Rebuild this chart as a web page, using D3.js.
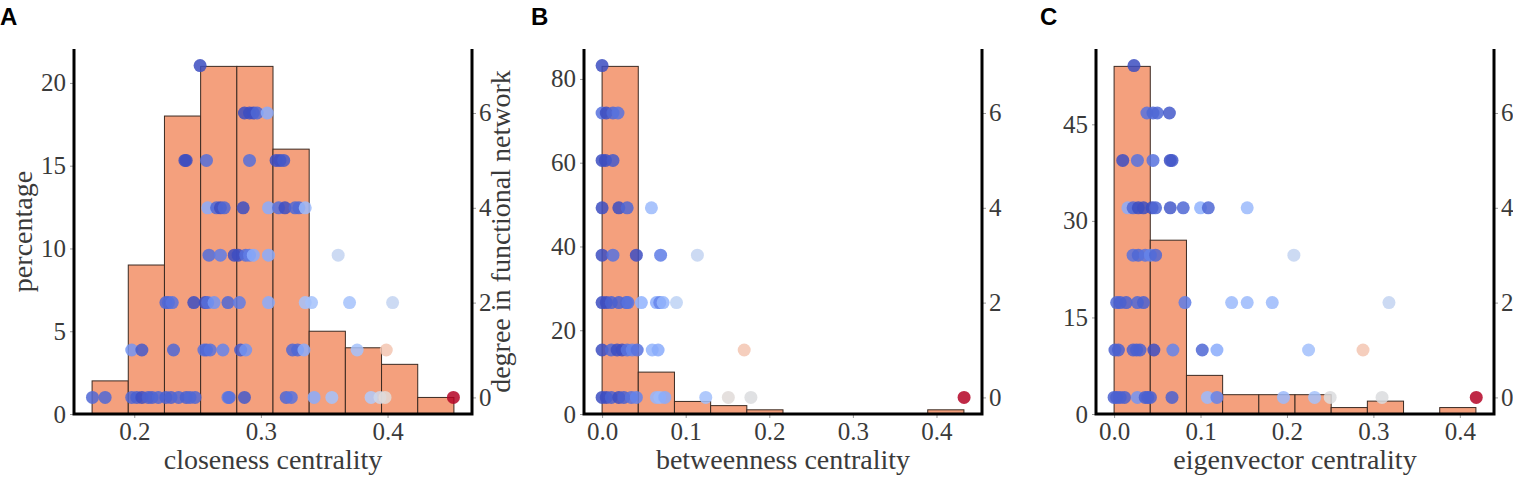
<!DOCTYPE html>
<html>
<head>
<meta charset="utf-8">
<script src="https://cdn.jsdelivr.net/npm/d3@7"></script>
<style>
	body { margin: 0; background: #fff; }
	svg text { font-family: "Liberation Serif", "Times New Roman", serif; }
</style>
</head>
<body>
<div id="chart"></div>
<script>

// histogram: percentage of nodes per bin, and the data range the 10 bins span
var closenessCounts = [2, 9, 18, 21, 21, 16, 5, 4, 3, 1];
var closenessRange = [0.1667, 0.4524];
var betweennessCounts = [83, 10, 3, 2, 1, 0, 0, 0, 0, 1];
var betweennessRange = [0, 0.4328];
var eigenvectorCounts = [54, 27, 6, 3, 3, 3, 1, 2, 0, 1];
var eigenvectorRange = [0, 0.4186];

// scatter: [centrality, degree in functional network, colour value on coolwarm 0..1]
var closenessPoints = [
	[0.252,7,0.03],
	[0.287,6,0.03],[0.291,6,0.03],[0.294,6,0.05],[0.297,6,0.12],[0.305,6,0.25],
	[0.240,5,0.02],[0.241,5,0.03],[0.257,5,0.14],[0.291,5,0.14],[0.312,5,0.03],[0.315,5,0.05],[0.318,5,0.08],
	[0.258,4,0.25],[0.265,4,0.12],[0.268,4,0.05],[0.271,4,0.12],[0.286,4,0.02],[0.306,4,0.25],[0.314,4,0.14],
	[0.319,4,0.05],[0.327,4,0.12],[0.330,4,0.12],[0.335,4,0.3],
	[0.259,3,0.14],[0.268,3,0.18],[0.279,3,0.03],[0.282,3,0.05],[0.288,3,0.14],[0.291,3,0.18],[0.294,3,0.25],
	[0.306,3,0.25],[0.361,3,0.42],
	[0.225,2,0.12],[0.227,2,0.12],[0.230,2,0.15],[0.247,2,0.03],[0.256,2,0.05],[0.258,2,0.14],[0.263,2,0.22],
	[0.274,2,0.12],[0.283,2,0.18],[0.306,2,0.25],[0.335,2,0.33],[0.340,2,0.33],[0.370,2,0.33],[0.404,2,0.42],
	[0.198,1,0.22],[0.206,1,0.08],[0.231,1,0.12],[0.255,1,0.15],[0.257,1,0.12],[0.260,1,0.15],[0.270,1,0.2],
	[0.284,1,0.08],[0.288,1,0.22],[0.325,1,0.12],[0.329,1,0.12],[0.334,1,0.25],[0.376,1,0.33],[0.399,1,0.62],
	[0.167,0,0.12],[0.177,0,0.12],[0.198,0,0.12],[0.202,0,0.1],[0.206,0,0.05],[0.211,0,0.1],[0.214,0,0.1],
	[0.219,0,0.12],[0.225,0,0.1],[0.229,0,0.1],[0.235,0,0.12],[0.241,0,0.1],[0.244,0,0.12],[0.248,0,0.12],
	[0.274,0,0.18],[0.275,0,0.15],[0.287,0,0.08],[0.320,0,0.12],[0.324,0,0.15],[0.342,0,0.25],[0.356,0,0.33],
	[0.387,0,0.36],[0.394,0,0.45],[0.398,0,0.52],[0.452,0,1]
];

var betweennessPoints = [
	[0.000,7,0.04],
	[0.000,6,0.15],[0.005,6,0.04],[0.013,6,0.12],[0.019,6,0.15],
	[0.000,5,0.03],[0.004,5,0.04],[0.013,5,0.08],
	[0.000,4,0.03],[0.020,4,0.04],[0.030,4,0.12],[0.059,4,0.3],
	[0.000,3,0.03],[0.013,3,0.15],[0.041,3,0.05],[0.070,3,0.18],[0.114,3,0.42],
	[0.000,2,0.03],[0.005,2,0.05],[0.011,2,0.1],[0.020,2,0.1],[0.029,2,0.12],[0.031,2,0.15],[0.047,2,0.27],
	[0.065,2,0.25],[0.069,2,0.2],[0.073,2,0.28],[0.089,2,0.4],
	[0.000,1,0.03],[0.011,1,0.12],[0.018,1,0.05],[0.024,1,0.05],[0.030,1,0.15],[0.036,1,0.2],[0.042,1,0.15],
	[0.060,1,0.28],[0.067,1,0.25],[0.170,1,0.62],
	[0.000,0,0.04],[0.005,0,0.05],[0.011,0,0.1],[0.020,0,0.05],[0.026,0,0.1],[0.035,0,0.15],[0.041,0,0.2],
	[0.065,0,0.28],[0.069,0,0.3],[0.075,0,0.25],[0.124,0,0.32],[0.151,0,0.52],[0.178,0,0.5],[0.433,0,1]
];

var eigenvectorPoints = [
	[0.023,7,0.04],
	[0.038,6,0.15],[0.045,6,0.12],[0.050,6,0.12],[0.064,6,0.08],
	[0.010,5,0.05],[0.027,5,0.15],[0.045,5,0.15],[0.065,5,0.05],[0.067,5,0.08],
	[0.016,4,0.25],[0.022,4,0.12],[0.028,4,0.04],[0.034,4,0.04],[0.044,4,0.04],[0.048,4,0.12],[0.065,4,0.08],
	[0.080,4,0.12],[0.100,4,0.27],[0.109,4,0.12],[0.154,4,0.3],
	[0.022,3,0.15],[0.028,3,0.12],[0.036,3,0.15],[0.042,3,0.2],[0.048,3,0.12],[0.208,3,0.42],
	[0.003,2,0.12],[0.007,2,0.1],[0.014,2,0.1],[0.027,2,0.12],[0.034,2,0.1],[0.082,2,0.18],[0.136,2,0.3],
	[0.154,2,0.3],[0.183,2,0.3],[0.318,2,0.42],
	[0.001,1,0.1],[0.005,1,0.1],[0.022,1,0.1],[0.026,1,0.1],[0.030,1,0.1],[0.046,1,0.05],[0.068,1,0.2],
	[0.102,1,0.12],[0.119,1,0.25],[0.225,1,0.32],[0.288,1,0.62],
	[0.000,0,0.1],[0.003,0,0.1],[0.007,0,0.1],[0.012,0,0.1],[0.027,0,0.22],[0.036,0,0.1],[0.039,0,0.1],
	[0.042,0,0.1],[0.067,0,0.1],[0.108,0,0.3],[0.119,0,0.2],[0.196,0,0.3],[0.232,0,0.33],[0.250,0,0.5],
	[0.310,0,0.5],[0.419,0,1]
];

// tick values
var closenessTicks = [0.2, 0.3, 0.4];
var centralityTicks = [0.0, 0.1, 0.2, 0.3, 0.4];
var closenessPercentTicks = [0, 5, 10, 15, 20];
var betweennessPercentTicks = [0, 20, 40, 60, 80];
var eigenvectorPercentTicks = [0, 15, 30, 45];
var degreeTicks = [0, 2, 4, 6];
var degreeDomain = [-0.35, 7.35];

// coolwarm colour map
var coolwarm = d3.piecewise(d3.interpolateRgb, [
	"#3b4cc0", "#6282ea", "#8db0fe", "#b8d0f9", "#dddddd",
	"#f5c4ad", "#f49a7b", "#de604d", "#b40426"
]);
// the low end of the map reads darker in the figure
var colourStretch = d3.scaleLinear()
	.domain([0, 0.05, 0.2, 0.25, 1])
	.range([0, 0.005, 0.13, 0.24, 1]);

var width = 1513, height = 477;
var plotTop = 49, plotBottom = 414, plotWidth = 398;
var barColor = "#f4a07d";
var textColor = "#3a3a3a";

var svg = d3.select("#chart").append("svg")
	.attr("width", width)
	.attr("height", height);

function drawPanel(p) {
	var left = p.left, right = p.left + plotWidth;
	var span = p.range[1] - p.range[0];

	var x = d3.scaleLinear()
		.domain([p.range[0] - span * 0.05, p.range[1] + span * 0.05])
		.range([left, right]);
	var yPct = d3.scaleLinear()
		.domain([0, d3.max(p.counts) * 1.05])
		.range([plotBottom, plotTop]);
	var yDeg = d3.scaleLinear()
		.domain(degreeDomain)
		.range([plotBottom, plotTop]);

	var binW = span / p.counts.length;
	var bins = p.counts.map(function(c, i) {
		return {x0: p.range[0] + i * binW, x1: p.range[0] + (i + 1) * binW, count: c};
	});

	var g = svg.append("g");

	g.selectAll(".bar")
		.data(bins.filter(function(d) { return d.count > 0; }))
		.enter().append("rect")
		.attr("class", "bar")
		.attr("x", function(d) { return x(d.x0); })
		.attr("width", function(d) { return x(d.x1) - x(d.x0); })
		.attr("y", function(d) { return yPct(d.count); })
		.attr("height", function(d) { return plotBottom - yPct(d.count); })
		.style("fill", barColor)
		.style("stroke", "#3b2a22")
		.style("stroke-width", 1);

	g.selectAll(".dot")
		.data(p.points)
		.enter().append("circle")
		.attr("class", "dot")
		.attr("cx", function(d) { return x(d[0]); })
		.attr("cy", function(d) { return yDeg(d[1]); })
		.attr("r", 6.5)
		.style("fill", function(d) { return coolwarm(colourStretch(d[2])); })
		.style("opacity", 0.85);

	var xAxis = g.append("g")
		.attr("transform", "translate(0," + plotBottom + ")")
		.call(d3.axisBottom(x).tickValues(p.xTicks).tickFormat(d3.format(".1f")).tickSize(4).tickPadding(4));
	var leftAxis = g.append("g")
		.attr("transform", "translate(" + left + ",0)")
		.call(d3.axisLeft(yPct).tickValues(p.yTicks).tickSize(4).tickPadding(4));
	var rightAxis = g.append("g")
		.attr("transform", "translate(" + right + ",0)")
		.call(d3.axisRight(yDeg).tickValues(degreeTicks).tickSize(4).tickPadding(3));

	[xAxis, leftAxis, rightAxis].forEach(function(a) {
		a.select(".domain").remove();
		a.selectAll(".tick line").style("stroke", "#999").style("stroke-width", 1);
		a.selectAll(".tick text")
			.style("font-family", "'Liberation Serif', serif")
			.style("font-size", "25px")
			.style("fill", textColor);
	});

	// spines
	g.append("path")
		.attr("d", "M" + left + "," + plotTop + "V" + plotBottom + "H" + right + "V" + plotTop)
		.style("fill", "none")
		.style("stroke", "#000")
		.style("stroke-width", 3);

	g.append("text")
		.attr("x", (left + right) / 2)
		.attr("y", 469)
		.style("text-anchor", "middle")
		.style("font-size", "28px")
		.style("fill", textColor)
		.text(p.xLabel);

	if (p.leftLabel) {
		g.append("text")
			.attr("transform", "translate(" + p.leftLabelX + "," + (plotTop + plotBottom) / 2 + ") rotate(-90)")
			.style("text-anchor", "middle")
			.style("font-size", "28px")
			.style("fill", textColor)
			.text(p.leftLabel);
	}
	if (p.rightLabel) {
		g.append("text")
			.attr("transform", "translate(" + p.rightLabelX + "," + (plotTop + plotBottom) / 2 + ") rotate(-90)")
			.style("text-anchor", "middle")
			.style("font-size", "28px")
			.style("fill", textColor)
			.text(p.rightLabel);
	}

	svg.append("text")
		.attr("x", p.letterX)
		.attr("y", 25)
		.style("font-family", "'Liberation Sans', Arial, sans-serif")
		.style("font-weight", "bold")
		.style("font-size", "24px")
		.style("fill", "#000")
		.text(p.letter);
}

drawPanel({
	left: 74, counts: closenessCounts, range: closenessRange, points: closenessPoints,
	xTicks: closenessTicks, yTicks: closenessPercentTicks,
	xLabel: "closeness centrality", leftLabel: "percentage", leftLabelX: 32,
	rightLabel: "degree in functional network", rightLabelX: 510,
	letter: "A", letterX: 0
});
drawPanel({
	left: 584, counts: betweennessCounts, range: betweennessRange, points: betweennessPoints,
	xTicks: centralityTicks, yTicks: betweennessPercentTicks,
	xLabel: "betweenness centrality",
	letter: "B", letterX: 531
});
drawPanel({
	left: 1096, counts: eigenvectorCounts, range: eigenvectorRange, points: eigenvectorPoints,
	xTicks: centralityTicks, yTicks: eigenvectorPercentTicks,
	xLabel: "eigenvector centrality",
	letter: "C", letterX: 1040
});

</script>
</body>
</html>
